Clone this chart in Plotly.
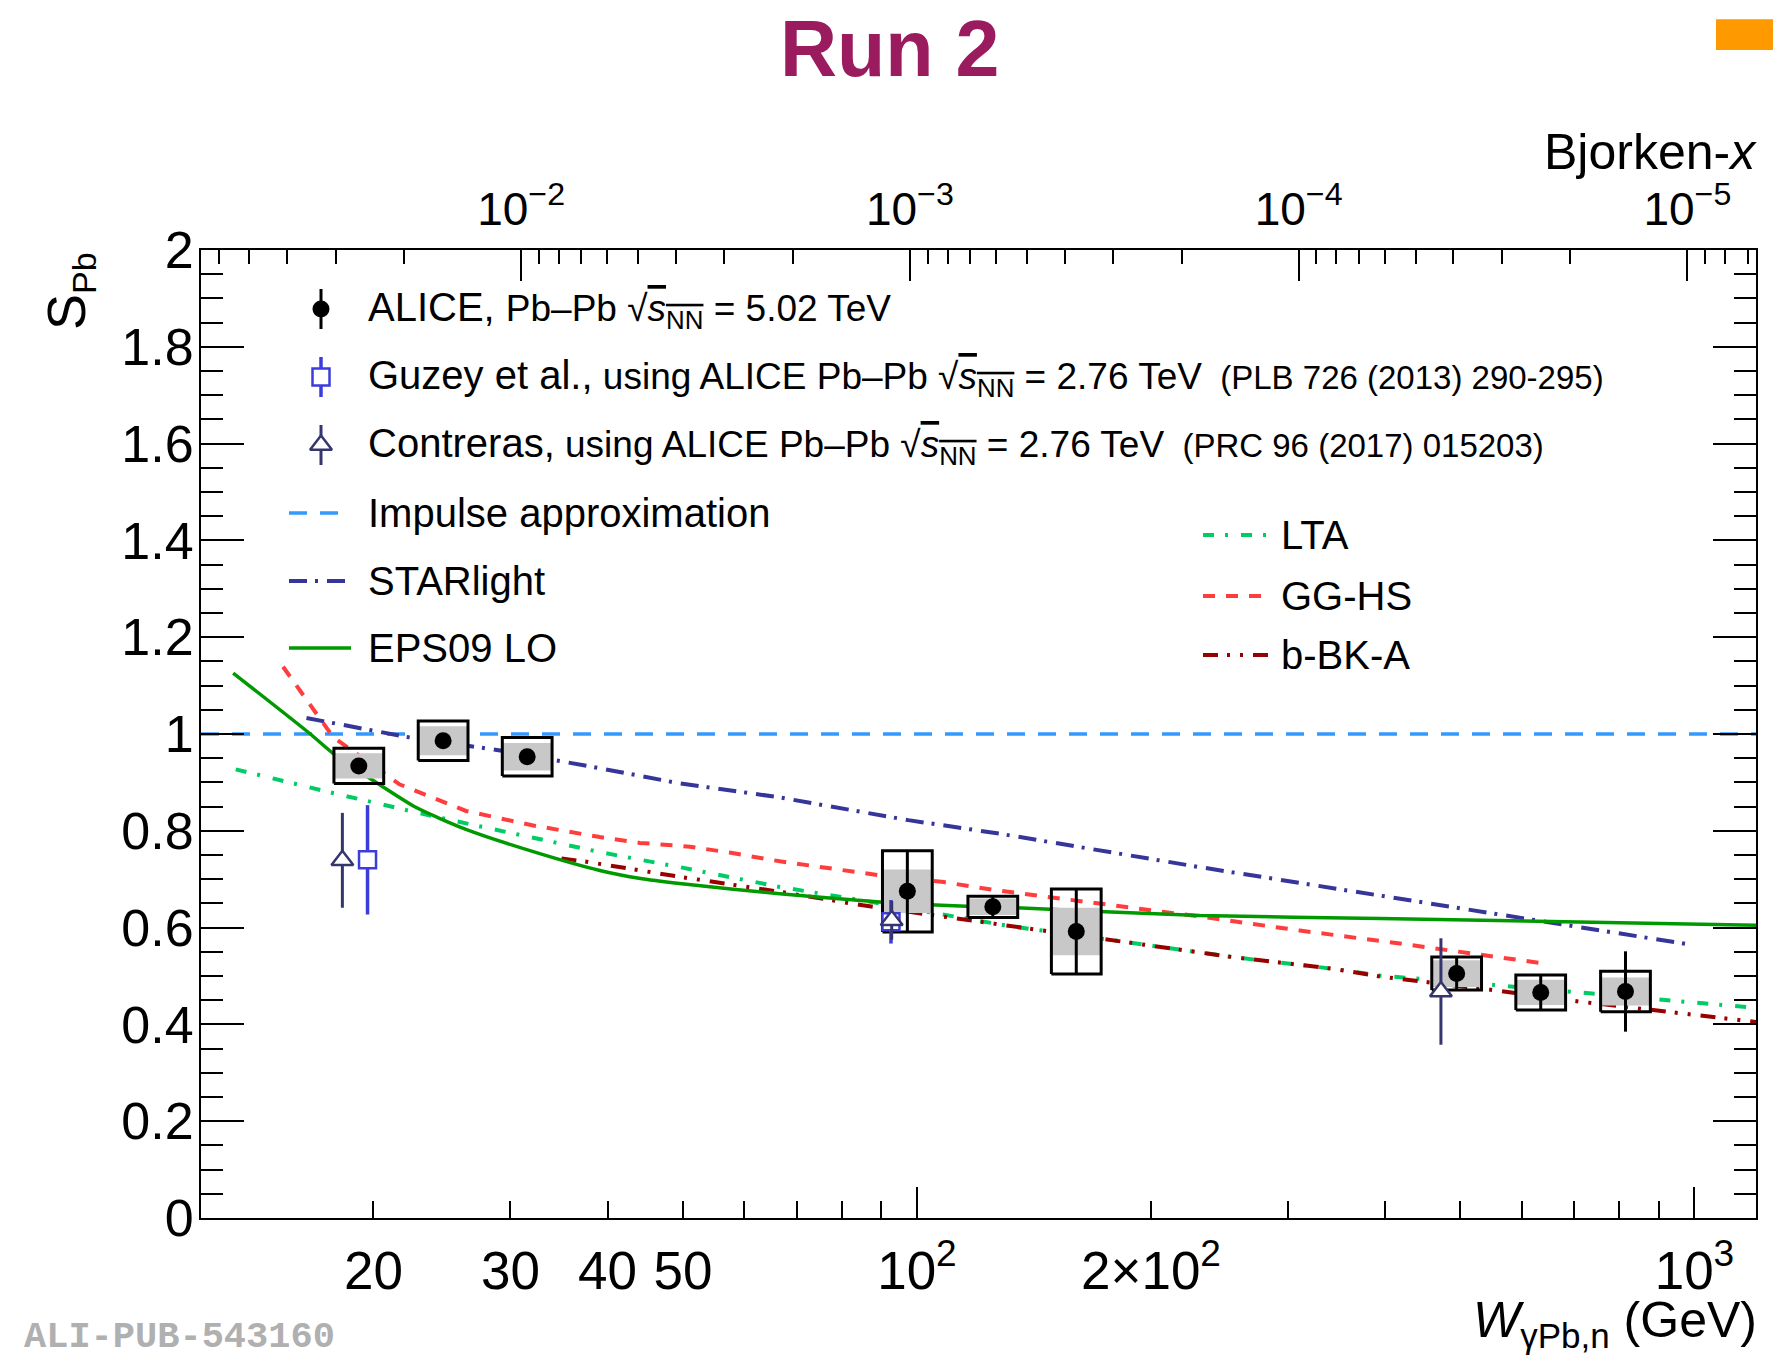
import numpy as np
import plotly.graph_objects as go

FONT = "Liberation Sans, Arial, Helvetica, sans-serif"
M_JPSI = 3.0969  # GeV; Bjorken-x = (M_J/psi / W)^2

# ---------------------------------------------------------------- data
W_RANGE = (12.0, 1200.0)
S_RANGE = (0.0, 2.0)

# ALICE Pb-Pb 5.02 TeV: W (GeV), S_Pb, stat. error, total syst. box, correlated syst. band
alice_w = [19.15, 24.58, 31.53, 97.2, 125.2, 160.3, 494.5, 634.3, 815.3]
alice_s = [0.934, 0.986, 0.953, 0.675, 0.643, 0.592, 0.505, 0.466, 0.468]
alice_stat = [0.012, 0.012, 0.012, 0.084, 0.022, 0.088, 0.034, 0.036, 0.083]
alice_syst = [0.0365, 0.041, 0.040, 0.084, 0.022, 0.088, 0.034, 0.036, 0.042]
alice_syst_corr = [0.026, 0.030, 0.0285, 0.045, 0.017, 0.049, 0.0276, 0.026, 0.029]
BOX_HALF_DECADE = 0.032

# Guzey et al. and Contreras, from ALICE Pb-Pb 2.76 TeV
guzey_w = [19.65, 92.6]
guzey_s = [0.740, 0.612]
guzey_err = [0.113, 0.045]

contreras_w = [18.24, 92.8, 472.0]
contreras_s = [0.739, 0.615, 0.468]
contreras_err = [0.098, 0.040, 0.110]

# model curves
impulse_w = [12.0, 1200.0]
impulse_s = [1.0, 1.0]

starlight_w = [16.4, 22.05, 29.1, 38.3, 49.5, 66.0, 97.5, 127.8, 231, 418, 986]
starlight_s = [1.033, 0.994, 0.966, 0.932, 0.898, 0.870, 0.822, 0.794, 0.725, 0.660, 0.565]

eps09_w = [13.2, 16.56, 17.74, 19.98, 22.7, 26.3, 32.1, 39.1, 43.9, 49.5, 66.6,
           89.6, 115.8, 134.3, 231, 394, 1200]
eps09_s = [1.126, 1.001, 0.960, 0.904, 0.848, 0.803, 0.757, 0.718, 0.702, 0.691,
           0.670, 0.653, 0.644, 0.641, 0.625, 0.619, 0.605]

lta_w = [13.3, 17.74, 23.86, 32.1, 39.1, 49.5, 66.6, 85.2, 109.1, 131.6, 178.8, 255,
         342.8, 394, 557, 712, 1200]
lta_s = [0.927, 0.878, 0.830, 0.785, 0.756, 0.725, 0.684, 0.656, 0.625, 0.603, 0.574,
         0.539, 0.515, 0.501, 0.481, 0.466, 0.434]

gghs_w = [15.3, 16.56, 17.74, 18.8, 21.6, 26.3, 32.1, 39.1, 44.0, 48.6, 51.1, 57.4,
          66.6, 89.6, 108.3, 126.6, 171.8, 231, 310.6, 418, 640]
gghs_s = [1.139, 1.060, 0.994, 0.965, 0.896, 0.841, 0.811, 0.787, 0.775, 0.770, 0.767,
          0.755, 0.737, 0.708, 0.694, 0.677, 0.650, 0.623, 0.594, 0.567, 0.526]

bbka_w = [34.9, 37.6, 49.5, 66.6, 85.2, 109.1, 126.6, 178.8, 213.8, 255, 342.8, 394,
          557, 712, 1200]
bbka_s = [0.743, 0.736, 0.705, 0.674, 0.646, 0.622, 0.608, 0.574, 0.557, 0.539, 0.515,
          0.499, 0.470, 0.447, 0.405]

# axis ticks
w_major = [20, 30, 40, 50, 100, 200, 1000]
w_major_text = ["20", "30", "40", "50", "10<sup>2</sup>", "2\u00d710<sup>2</sup>", "10<sup>3</sup>"]
w_minor = [60, 70, 80, 90, 300, 400, 500, 600, 700, 800, 900]
w_long = [100, 1000]
s_ticks = [0, 0.2, 0.4, 0.6, 0.8, 1.0, 1.2, 1.4, 1.6, 1.8, 2.0]
s_text = ["0", "0.2", "0.4", "0.6", "0.8", "1", "1.2", "1.4", "1.6", "1.8", "2"]
bj_major = [1e-2, 1e-3, 1e-4, 1e-5]
bj_major_text = ["10<sup>\u22122</sup>", "10<sup>\u22123</sup>", "10<sup>\u22124</sup>",
                 "10<sup>\u22125</sup>"]

# colours
C_IMPULSE = "#3399ff"
C_STAR = "#35359a"
C_EPS = "#009a00"
C_LTA = "#00cc66"
C_GGHS = "#ff3d3d"
C_BBKA = "#990000"
C_GUZEY = "#3c3cdc"
C_CONTR = "#36366e"
C_BOX = "#c8c8c8"

# dash patterns
D_IMPULSE = "18px,13px"
D_STAR = "18px,8px,3px,9px"
D_LTA = "11px,11px,3px,13px"
D_GGHS = "12px,11px"
D_BBKA = "15px,9px,3px,10px,3px,10px"

# ---------------------------------------------------------------- page geometry
FIG_W, FIG_H = 1773, 1360
L, R, T, B = 201, 1756, 250, 1218   # frame edges in page pixels


def bjx(w):
    return (M_JPSI / np.asarray(w, dtype=float)) ** 2


def xp(p):
    return (p - L) / (R - L)


def yp(p):
    return (B - p) / (B - T)


fig = go.Figure()


def add_curve(w, s, color, dash, width=4.0, shape="linear"):
    fig.add_trace(go.Scatter(x=w, y=s, mode="lines",
                             line=dict(color=color, dash=dash, width=width, shape=shape,
                                       smoothing=0.6),
                             hoverinfo="skip", showlegend=False))


add_curve(impulse_w, impulse_s, C_IMPULSE, D_IMPULSE, 3.5)
add_curve(starlight_w, starlight_s, C_STAR, D_STAR, 4)
add_curve(lta_w, lta_s, C_LTA, D_LTA, 4)
add_curve(bbka_w, bbka_s, C_BBKA, D_BBKA, 4)
add_curve(gghs_w, gghs_s, C_GGHS, D_GGHS, 4)
add_curve(eps09_w, eps09_s, C_EPS, "solid", 3.5, shape="spline")


def box_outline(w, s, e, h):
    xs, ys = [], []
    for wi, si, ei in zip(w, s, e):
        x0, x1 = wi * 10 ** (-h), wi * 10 ** h
        xs += [x0, x1, x1, x0, x0, None]
        ys += [si - ei, si - ei, si + ei, si + ei, si - ei, None]
    return xs, ys


gx, gy = box_outline(alice_w, alice_s, alice_syst_corr, BOX_HALF_DECADE)
fig.add_trace(go.Scatter(x=gx, y=gy, mode="none", fill="toself", fillcolor=C_BOX,
                         hoverinfo="skip", showlegend=False))
bx, by = box_outline(alice_w, alice_s, alice_syst, BOX_HALF_DECADE)
fig.add_trace(go.Scatter(x=bx, y=by, mode="lines", line=dict(color="black", width=3),
                         hoverinfo="skip", showlegend=False))

fig.add_trace(go.Scatter(
    x=guzey_w, y=guzey_s, mode="markers",
    marker=dict(symbol="square", size=17, color="white", line=dict(color=C_GUZEY, width=2.5)),
    error_y=dict(type="data", array=guzey_err, color=C_GUZEY, thickness=3.5, width=0),
    hoverinfo="skip", showlegend=False))
fig.add_trace(go.Scatter(
    x=contreras_w, y=contreras_s, mode="markers",
    marker=dict(symbol="triangle-up", size=19, color="white", line=dict(color=C_CONTR, width=2.5)),
    error_y=dict(type="data", array=contreras_err, color=C_CONTR, thickness=3, width=0),
    hoverinfo="skip", showlegend=False))
fig.add_trace(go.Scatter(
    x=alice_w, y=alice_s, mode="markers",
    marker=dict(symbol="circle", size=17, color="black"),
    error_y=dict(type="data", array=alice_stat, color="black", thickness=3, width=0),
    hoverinfo="skip", showlegend=False))

# invisible anchors so the overlay axes are always drawn
fig.add_trace(go.Scatter(x=list(bjx(W_RANGE)), y=list(S_RANGE), xaxis="x2", yaxis="y",
                         mode="markers", marker=dict(opacity=0), hoverinfo="skip",
                         showlegend=False))
fig.add_trace(go.Scatter(x=list(W_RANGE), y=list(S_RANGE), xaxis="x3", yaxis="y",
                         mode="markers", marker=dict(opacity=0), hoverinfo="skip",
                         showlegend=False))

# ---------------------------------------------------------------- legend (page pixel axes x4/y4)
LEG_ROWS = [309, 377, 445, 513, 581, 648]
LEG_MX, LEG_LX0, LEG_LX1, LEG_TX = 321, 289, 351, 366
LEG2_ROWS = [535, 596, 655]
LEG2_LX0, LEG2_LX1, LEG2_TX = 1203, 1269, 1279
LEG_BAR = 20

fig.add_trace(go.Scatter(
    x=[LEG_MX], y=[LEG_ROWS[0]], xaxis="x4", yaxis="y4", mode="markers",
    marker=dict(symbol="circle", size=17, color="black"),
    error_y=dict(type="data", array=[LEG_BAR], color="black", thickness=3, width=0),
    hoverinfo="skip", showlegend=False, cliponaxis=False))
fig.add_trace(go.Scatter(
    x=[LEG_MX], y=[LEG_ROWS[1]], xaxis="x4", yaxis="y4", mode="markers",
    marker=dict(symbol="square", size=17, color="white", line=dict(color=C_GUZEY, width=2.5)),
    error_y=dict(type="data", array=[LEG_BAR], color=C_GUZEY, thickness=3.5, width=0),
    hoverinfo="skip", showlegend=False, cliponaxis=False))
fig.add_trace(go.Scatter(
    x=[LEG_MX], y=[LEG_ROWS[2]], xaxis="x4", yaxis="y4", mode="markers",
    marker=dict(symbol="triangle-up", size=19, color="white", line=dict(color=C_CONTR, width=2.5)),
    error_y=dict(type="data", array=[LEG_BAR], color=C_CONTR, thickness=3, width=0),
    hoverinfo="skip", showlegend=False, cliponaxis=False))

for yrow, col, dash, wd in [(LEG_ROWS[3], C_IMPULSE, D_IMPULSE, 3.5),
                            (LEG_ROWS[4], C_STAR, D_STAR, 4),
                            (LEG_ROWS[5], C_EPS, "solid", 3.5)]:
    fig.add_trace(go.Scatter(x=[LEG_LX0, LEG_LX1], y=[yrow, yrow], xaxis="x4", yaxis="y4",
                             mode="lines", line=dict(color=col, dash=dash, width=wd),
                             hoverinfo="skip", showlegend=False, cliponaxis=False))
for yrow, col, dash in [(LEG2_ROWS[0], C_LTA, D_LTA),
                        (LEG2_ROWS[1], C_GGHS, D_GGHS),
                        (LEG2_ROWS[2], C_BBKA, D_BBKA)]:
    fig.add_trace(go.Scatter(x=[LEG2_LX0, LEG2_LX1], y=[yrow, yrow], xaxis="x4", yaxis="y4",
                             mode="lines", line=dict(color=col, dash=dash, width=4),
                             hoverinfo="skip", showlegend=False, cliponaxis=False))

SQRT_S = "\u221a<span style='text-decoration:overline'><i>s</i><sub>NN</sub></span>"
leg_texts = [
    "ALICE, <span style='font-size:37px'>Pb\u2013Pb " + SQRT_S + " = 5.02 TeV</span>",
    "Guzey et al.,<span style='font-size:37px'> using ALICE Pb\u2013Pb " + SQRT_S
    + " = 2.76 TeV</span><span style='font-size:33px'>\u00a0 (PLB 726 (2013) 290-295)</span>",
    "Contreras,<span style='font-size:37px'> using ALICE Pb\u2013Pb " + SQRT_S
    + " = 2.76 TeV</span><span style='font-size:33px'>\u00a0 (PRC 96 (2017) 015203)</span>",
    "Impulse approximation",
    "STARlight",
    "EPS09 LO",
]
annotations = []
for yrow, txt in zip(LEG_ROWS, leg_texts):
    annotations.append(dict(x=LEG_TX, y=yrow, xref="x4", yref="y4", text=txt, showarrow=False,
                            xanchor="left", yanchor="middle",
                            font=dict(family=FONT, size=40, color="black")))
for yrow, txt in zip(LEG2_ROWS, ["LTA", "GG-HS", "b-BK-A"]):
    annotations.append(dict(x=LEG2_TX, y=yrow, xref="x4", yref="y4", text=txt, showarrow=False,
                            xanchor="left", yanchor="middle",
                            font=dict(family=FONT, size=40, color="black")))

# ---------------------------------------------------------------- titles and labels
annotations += [
    dict(x=xp(889), y=yp(48), xref="paper", yref="paper", text="<b>Run 2</b>",
         showarrow=False, xanchor="center", yanchor="middle",
         font=dict(family=FONT, size=79, color="#9b1b5f")),
    dict(x=xp(1759), y=yp(152), xref="paper", yref="paper", text="Bjorken-<i>x</i>",
         showarrow=False, xanchor="right", yanchor="middle",
         font=dict(family=FONT, size=50, color="black")),
    dict(x=xp(1759), y=yp(1323), xref="paper", yref="paper",
         text="<i>W</i><sub><span style='font-size:35px'>\u03b3Pb,n</span></sub> (GeV)",
         showarrow=False, xanchor="right", yanchor="middle",
         font=dict(family=FONT, size=50, color="black")),
    dict(x=xp(69), y=yp(250), xref="paper", yref="paper",
         text="S<sub><span style='font-size:34px'>Pb</span></sub>", showarrow=False,
         textangle=-90, xanchor="center", yanchor="top",
         font=dict(family=FONT, size=54, color="black")),
    dict(x=xp(22), y=yp(1360), xref="paper", yref="paper", text="<b>ALI-PUB-543160</b>",
         showarrow=False, xanchor="left", yanchor="bottom",
         font=dict(family="Liberation Mono, Courier New, monospace", size=37, color="#b0b0b0")),
]

shapes = [dict(type="rect", xref="paper", yref="paper", x0=xp(1716), x1=xp(1780),
               y0=yp(50), y1=yp(19.3), fillcolor="#ff9900", line=dict(width=0), layer="above")]

# ---------------------------------------------------------------- axes
log_w = [np.log10(W_RANGE[0]), np.log10(W_RANGE[1])]
bj_range = [float(np.log10(bjx(W_RANGE[0]))), float(np.log10(bjx(W_RANGE[1])))]
bj_lo, bj_hi = float(bjx(W_RANGE[1])), float(bjx(W_RANGE[0]))
bj_minor = [m * 10.0 ** e for e in range(-6, -1) for m in range(2, 10)]
bj_minor = [v for v in bj_minor if bj_lo <= v <= bj_hi]

axis_common = dict(showgrid=False, zeroline=False, ticks="inside", tickcolor="black",
                   tickwidth=2, automargin=False)

fig.update_layout(
    width=FIG_W, height=FIG_H, autosize=False,
    margin=dict(l=L, r=FIG_W - R, t=T, b=FIG_H - B, pad=0),
    paper_bgcolor="white", plot_bgcolor="white",
    font=dict(family=FONT, color="black"),
    showlegend=False,
    xaxis=dict(type="log", range=log_w, tickmode="array", tickvals=w_major,
               ticktext=w_major_text, ticklen=17, showline=True, linecolor="black",
               linewidth=2, mirror=False, tickfont=dict(size=53), ticklabelstandoff=5,
               minor=dict(tickmode="array", tickvals=w_minor, ticks="inside", ticklen=17,
                          tickwidth=2, tickcolor="black", showgrid=False),
               **axis_common),
    xaxis2=dict(type="log", range=bj_range, overlaying="x", side="top", anchor="y",
                tickmode="array", tickvals=bj_major, ticktext=bj_major_text, ticklen=31,
                showline=True, linecolor="black", linewidth=2, tickfont=dict(size=46),
                ticklabelstandoff=5,
                minor=dict(tickmode="array", tickvals=bj_minor, ticks="inside", ticklen=14,
                           tickwidth=2, tickcolor="black", showgrid=False),
                **axis_common),
    xaxis3=dict(type="log", range=log_w, overlaying="x", side="bottom", anchor="y",
                tickmode="array", tickvals=w_long, ticklen=31, showticklabels=False,
                showline=False, **axis_common),
    xaxis4=dict(range=[L, R], overlaying="x", anchor="y4", visible=False),
    yaxis=dict(range=list(S_RANGE), tickmode="array", tickvals=s_ticks, ticktext=s_text,
               ticklen=43, showline=True, linecolor="black", linewidth=2, mirror="ticks",
               tickfont=dict(size=52), ticklabelstandoff=-5,
               minor=dict(dtick=0.05, ticks="inside", ticklen=22, tickwidth=2,
                          tickcolor="black", showgrid=False),
               **axis_common),
    yaxis4=dict(range=[B, T], overlaying="y", anchor="x4", visible=False),
    annotations=annotations,
    shapes=shapes,
)

fig.write_html("out.html")
